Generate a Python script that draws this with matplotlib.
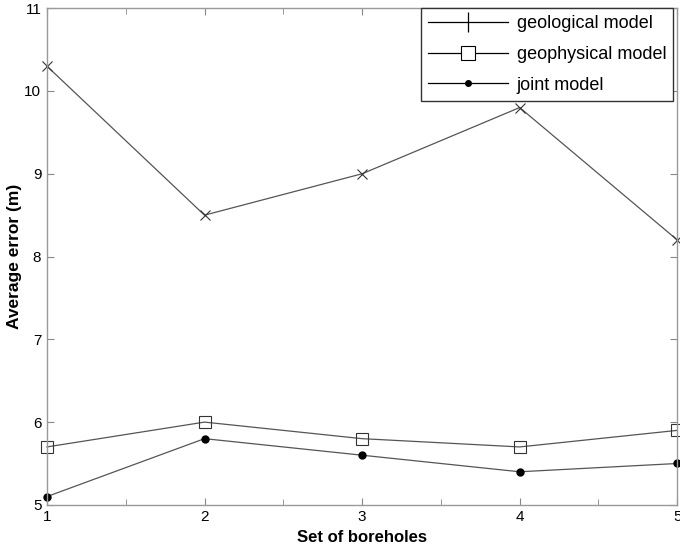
import matplotlib
matplotlib.use("Agg")
import matplotlib.pyplot as plt
from matplotlib.lines import Line2D

plt.rcParams["font.family"] = ["Liberation Sans", "DejaVu Sans"]

boreholes = [1, 2, 3, 4, 5]
geological = [10.3, 8.5, 9.0, 9.8, 8.2]
geophysical = [5.7, 6.0, 5.8, 5.7, 5.9]
joint = [5.1, 5.8, 5.6, 5.4, 5.5]

fig = plt.figure(figsize=(6.8, 5.47), dpi=100)
ax = fig.add_axes([0.069, 0.077, 0.927, 0.908])

line_col = "#555555"
ax.plot(boreholes, geological, color=line_col, lw=0.9, marker="x", ms=7,
        mec="#333333", mew=0.8, clip_on=False)
ax.plot(boreholes, geophysical, color=line_col, lw=0.9, marker="s", ms=9,
        mfc="none", mec="#333333", mew=0.8, clip_on=False)
ax.plot(boreholes, joint, color=line_col, lw=0.9, marker="o", ms=5,
        mfc="black", mec="black", clip_on=False)

ax.set_xlim(1, 5)
ax.set_ylim(5, 11)
ax.set_xticks(boreholes)
ax.set_xticks([1.5, 2.5, 3.5, 4.5], minor=True)
ax.set_yticks(range(5, 12))
ax.tick_params(which="both", direction="in", colors="#888888", labelcolor="black",
               labelsize=11, top=True, right=True)
ax.tick_params(which="major", length=5, pad=4)
ax.tick_params(which="minor", length=4)
for s in ax.spines.values():
    s.set_color("#999999")
    s.set_linewidth(1.0)

ax.set_xlabel("Set of boreholes", fontsize=12, fontweight="bold", labelpad=4)
ax.set_ylabel("Average error (m)", fontsize=12.5, fontweight="bold")
ax.yaxis.set_label_coords(-0.040, 0.5)

handles = [
    Line2D([], [], color="black", lw=0.9, marker="|", ms=14, mew=0.9),
    Line2D([], [], color="black", lw=0.9, marker="s", ms=10, mfc="white", mec="black", mew=0.8),
    Line2D([], [], color="black", lw=0.9, marker="o", ms=4, mfc="black"),
]
labels = ["geological model", "geophysical model", "joint model"]
leg = ax.legend(handles, labels, loc="upper right", bbox_to_anchor=(0.994, 1.0),
                fontsize=13, fancybox=False, framealpha=1, edgecolor="#333333",
                handlelength=4.4, handletextpad=0.5, borderaxespad=0.0,
                labelspacing=0.75, borderpad=0.4)
leg.get_frame().set_linewidth(1.0)

fig.savefig("out.png", dpi=100)
